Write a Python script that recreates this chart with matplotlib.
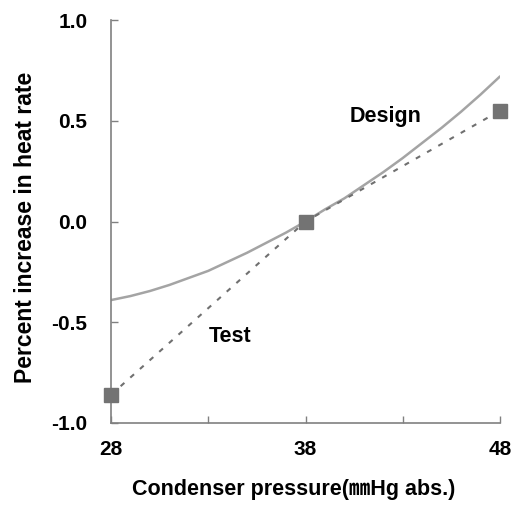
import matplotlib
matplotlib.use("Agg")
import matplotlib.pyplot as plt

# Data
design_x = [28, 29, 30, 31, 32, 33, 34, 35, 36, 37, 38, 39, 40, 41, 42, 43, 44, 45, 46, 47, 48]
design_y = [-0.39, -0.37, -0.345, -0.315, -0.28, -0.245, -0.20, -0.155, -0.105, -0.055, 0.0,
            0.06, 0.115, 0.18, 0.245, 0.315, 0.39, 0.465, 0.545, 0.63, 0.72]
test_x = [28, 38, 48]
test_y = [-0.86, 0.0, 0.55]
x_ticks = [28, 33, 38, 43, 48]
x_ticklabels = ["28", "", "38", "", "48"]
y_ticks = [-1.0, -0.5, 0.0, 0.5, 1.0]
y_ticklabels = ["-1.0", "-0.5", "0.0", "0.5", "1.0"]

fam = ["Liberation Sans", "Noto Sans CJK JP", "DejaVu Sans"]
plt.rcParams["font.family"] = fam
plt.rcParams["font.weight"] = "bold"

fig = plt.figure(figsize=(5.19, 5.07), dpi=100)
ax = fig.add_axes([111/519, 1-423/507, (500-111)/519, (423-20)/507])

ax.plot(design_x, design_y, color="#a4a4a4", lw=1.8, solid_capstyle="round")
ax.plot(test_x, test_y, color="#707070", lw=1.5, ls=(0, (2.4, 3.8)))
ax.plot(test_x, test_y, ls="none", marker="s", ms=9.5, color="#737373", clip_on=False, zorder=5)

ax.set_xlim(28, 48)
ax.set_ylim(-1.0, 1.0)
ax.set_xticks(x_ticks)
ax.set_xticklabels(x_ticklabels)
ax.set_yticks(y_ticks)
ax.set_yticklabels(y_ticklabels)
ax.spines["top"].set_visible(False)
ax.spines["right"].set_visible(False)
for s in ("left", "bottom"):
    ax.spines[s].set_color("#808080")
    ax.spines[s].set_linewidth(1.2)
ax.tick_params(axis="both", direction="in", length=5, width=1, color="#808080",
               labelsize=15)
ax.tick_params(axis="x", pad=12)
ax.tick_params(axis="y", pad=17)
for lab in ax.get_xticklabels() + ax.get_yticklabels():
    lab.set_fontweight("bold")

ax.set_xlabel("Condenser pressure(㎜Hg abs.)", fontsize=15.5, fontweight="bold", labelpad=15)
ax.xaxis.label.set_x(0.47)
ax.set_ylabel("Percent increase in heat rate", fontsize=16.5, fontweight="bold", labelpad=10)
ax.yaxis.label.set_y(0.485)

ax.text(42.1, 0.52, "Design", fontsize=15.5, fontweight="bold", ha="center", va="center")
ax.text(34.1, -0.57, "Test", fontsize=15.5, fontweight="bold", ha="center", va="center")

fig.savefig("out.png", dpi=100)
